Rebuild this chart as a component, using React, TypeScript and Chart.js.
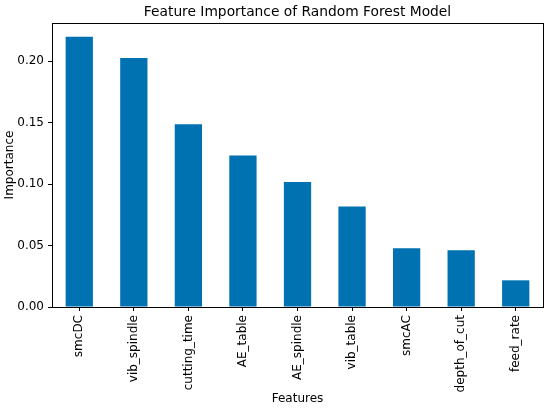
import React, { useEffect, useRef } from "react";
import { Chart, registerables } from "chart.js";

Chart.register(...registerables);

const categories = [
  "smcDC",
  "vib_spindle",
  "cutting_time",
  "AE_table",
  "AE_spindle",
  "vib_table",
  "smcAC",
  "depth_of_cut",
  "feed_rate",
];
const importance = [0.2198, 0.2025, 0.1487, 0.1233, 0.1017, 0.0817, 0.0478, 0.0462, 0.0217];
const yTicks = [0, 0.05, 0.1, 0.15, 0.2];

const FONT = "'DejaVu Sans', sans-serif";

const framePlugin = {
  id: "frame",
  afterDraw(chart: any) {
    const { ctx, chartArea } = chart;
    ctx.save();
    ctx.strokeStyle = "#000";
    ctx.lineWidth = 1;
    ctx.strokeRect(
      Math.round(chartArea.left) + 0.5,
      Math.round(chartArea.top) + 0.5,
      Math.round(chartArea.right - chartArea.left),
      Math.round(chartArea.bottom - chartArea.top)
    );
    ctx.fillStyle = "#000";
    ctx.font = `13.8px ${FONT}`;
    ctx.textAlign = "center";
    ctx.textBaseline = "middle";
    ctx.fillText(
      "Feature Importance of Random Forest Model",
      (chartArea.left + chartArea.right) / 2,
      12.5
    );
    ctx.restore();
  },
};

export default function App() {
  const ref = useRef<HTMLCanvasElement | null>(null);

  useEffect(() => {
    if (!ref.current) return;
    Chart.defaults.color = "#000";
    const chart = new Chart(ref.current, {
      type: "bar",
      data: {
        labels: categories,
        datasets: [
          {
            label: "Importance",
            data: importance,
            backgroundColor: "#0072B2",
            barPercentage: 0.5,
            categoryPercentage: 1,
          },
        ],
      },
      options: {
        animation: false,
        responsive: true,
        maintainAspectRatio: false,
        layout: { padding: { top: 23, right: 7, left: 0, bottom: 0 } },
        plugins: {
          legend: { display: false },
          title: { display: false },
          tooltip: { enabled: false },
        },
        scales: {
          x: {
            offset: true,
            grid: {
              display: true,
              drawOnChartArea: false,
              drawTicks: true,
              tickLength: 4,
              color: "#000",
              offset: false,
            },
            border: { display: false },
            ticks: {
              minRotation: 90,
              maxRotation: 90,
              padding: 4,
              color: "#000",
              font: { family: FONT, size: 12 },
            },
            title: {
              display: true,
              text: "Features",
              color: "#000",
              font: { family: FONT, size: 12 },
              padding: { top: 0, bottom: 4 },
            },
            afterFit(scale: any) {
              scale.height = 103;
            },
          },
          y: {
            min: 0,
            max: 0.231,
            afterBuildTicks(scale: any) {
              scale.ticks = yTicks.map((v) => ({ value: v }));
            },
            grid: {
              display: true,
              drawOnChartArea: false,
              drawTicks: true,
              tickLength: 4,
              color: "#000",
            },
            border: { display: false },
            ticks: {
              padding: 4,
              color: "#000",
              font: { family: FONT, size: 12 },
              callback: (v: any) => Number(v).toFixed(2),
            },
            title: {
              display: true,
              text: "Importance",
              color: "#000",
              font: { family: FONT, size: 12 },
              padding: { top: 3, bottom: 0 },
            },
            afterFit(scale: any) {
              scale.width = 52;
            },
          },
        },
      },
      plugins: [framePlugin],
    });
    return () => chart.destroy();
  }, []);

  return (
    <div style={{ position: "absolute", left: 0, top: 0, width: 550, height: 410, background: "#fff" }}>
      <canvas ref={ref} />
    </div>
  );
}
